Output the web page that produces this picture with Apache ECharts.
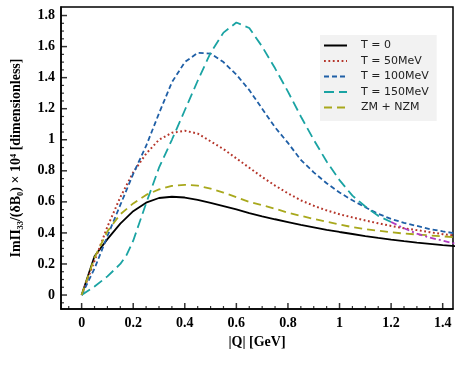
<!DOCTYPE html>
<html>
<head>
<meta charset="utf-8">
<script src="https://cdn.jsdelivr.net/npm/echarts@6/dist/echarts.min.js"></script>
<style>
  html, body { margin: 0; padding: 0; background: #fff; }
  #main { width: 463px; height: 371px; }
</style>
</head>
<body>
<div id="main"></div>
<script>
// |Q| grid (GeV)
const qValues = [0, 0.05, 0.1, 0.15, 0.2, 0.25, 0.3, 0.35, 0.4, 0.45, 0.5, 0.55, 0.6, 0.65, 0.7,
  0.75, 0.8, 0.85, 0.9, 0.95, 1.0, 1.05, 1.1, 1.15, 1.2, 1.25, 1.3, 1.35, 1.4, 1.45];

const t0 = [0, 0.25, 0.36, 0.46, 0.54, 0.595, 0.625, 0.633, 0.628, 0.613, 0.594, 0.573, 0.551, 0.527, 0.507,
  0.488, 0.47, 0.452, 0.436, 0.42, 0.406, 0.393, 0.38, 0.368, 0.357, 0.347, 0.338, 0.33, 0.322, 0.315];
const t50 = [0, 0.22, 0.44, 0.63, 0.79, 0.91, 1.0, 1.045, 1.058, 1.04, 0.99, 0.94, 0.88, 0.82, 0.76,
  0.705, 0.655, 0.61, 0.575, 0.545, 0.52, 0.5, 0.48, 0.462, 0.445, 0.43, 0.418, 0.405, 0.392, 0.382];
const t100 = [0, 0.17, 0.38, 0.58, 0.78, 0.96, 1.17, 1.37, 1.5, 1.56, 1.555, 1.5, 1.42, 1.32, 1.2,
  1.08, 0.98, 0.87, 0.79, 0.72, 0.66, 0.61, 0.565, 0.523, 0.49, 0.465, 0.445, 0.425, 0.41, 0.397];
// T=150MeV has its own grid and stops near 1.2 GeV
const t150Q = [0, 0.05, 0.1, 0.15, 0.175, 0.2, 0.225, 0.25, 0.3, 0.35, 0.4, 0.45, 0.5, 0.55, 0.6, 0.65, 0.7,
  0.75, 0.8, 0.85, 0.9, 0.95, 1.0, 1.05, 1.1, 1.15, 1.2];
const t150 = [0, 0.055, 0.12, 0.2, 0.26, 0.35, 0.47, 0.59, 0.82, 1.0, 1.19, 1.38, 1.56, 1.69, 1.755, 1.72, 1.6,
  1.46, 1.31, 1.15, 1.0, 0.86, 0.74, 0.64, 0.57, 0.51, 0.47];
const zmNzm = [0, 0.24, 0.41, 0.52, 0.59, 0.645, 0.68, 0.703, 0.71, 0.705, 0.685, 0.66, 0.63, 0.6, 0.578,
  0.556, 0.53, 0.51, 0.49, 0.472, 0.455, 0.437, 0.425, 0.414, 0.404, 0.396, 0.39, 0.384, 0.378, 0.372];
// extra dash-dot tail (no legend entry)
const tailQ = [1.2, 1.25, 1.3, 1.35, 1.4, 1.45];
const tailVals = [0.47, 0.43, 0.395, 0.37, 0.35, 0.33];

const xMajor = [0, 0.2, 0.4, 0.6, 0.8, 1, 1.2, 1.4];
const xMinor = [-0.05, 0.05, 0.1, 0.15, 0.25, 0.3, 0.35, 0.45, 0.5, 0.55, 0.65, 0.7, 0.75, 0.85, 0.9, 0.95,
  1.05, 1.1, 1.15, 1.25, 1.3, 1.35];
const yMajor = [0, 0.2, 0.4, 0.6, 0.8, 1, 1.2, 1.4, 1.6, 1.8];
const yMinor = [-0.05, 0.05, 0.1, 0.15, 0.25, 0.3, 0.35, 0.45, 0.5, 0.55, 0.65, 0.7, 0.75, 0.85, 0.9, 0.95,
  1.05, 1.1, 1.15, 1.25, 1.3, 1.35, 1.45, 1.5, 1.55, 1.65, 1.7, 1.75];

const pairs = (xs, ys) => ys.map((v, i) => [xs[i], v]);

const chart = echarts.init(document.getElementById('main'), null, { renderer: 'canvas' });

const serif = 'Liberation Serif, Times New Roman, serif';
const xRange = { min: -0.08, max: 1.44 };
const yRange = { min: -0.09, max: 1.855 };

function line(name, data, color, type, width) {
  return {
    name: name,
    type: 'line',
    data: data,
    showSymbol: false,
    symbol: 'none',
    legendIcon: 'none',
    smooth: false,
    lineStyle: { color: color, type: type, width: width || 1.8 },
    itemStyle: { color: color }
  };
}

// inward tick marks drawn as thin rect symbols sitting on the frame edges
function ticks(name, data, size, offset) {
  return {
    name: name,
    type: 'scatter',
    data: data,
    symbol: 'rect',
    symbolSize: size,
    symbolOffset: offset,
    clip: false,
    silent: true,
    z: 20,
    itemStyle: { color: '#000' }
  };
}

const option = {
  animation: false,
  grid: {
    left: 61, right: 10, top: 7, bottom: 62,
    show: true, borderColor: '#000', borderWidth: 1.5, backgroundColor: 'transparent'
  },
  legend: {
    left: 320, top: 35,
    orient: 'vertical',
    backgroundColor: '#f2f2f2',
    padding: [5, 8, 8, 3],
    itemWidth: 23,
    itemHeight: 12,
    itemGap: 4.5,
    itemStyle: { opacity: 0 },
    data: ['T = 0', 'T = 50MeV', 'T = 100MeV', 'T = 150MeV', 'ZM + NZM'],
    textStyle: {
      fontFamily: 'DejaVu Sans',
      fontSize: 11,
      color: '#222',
      padding: [0, 0, 0, 9]
    }
  },
  xAxis: {
    type: 'value', min: xRange.min, max: xRange.max,
    name: '|Q| [GeV]',
    nameLocation: 'middle',
    nameGap: 25,
    nameTextStyle: { fontFamily: serif, fontWeight: 'bold', fontSize: 14, color: '#000' },
    axisLine: { show: true, onZero: false, lineStyle: { color: '#000', width: 1.5 } },
    axisTick: { show: false },
    axisLabel: {
      customValues: xMajor, margin: 7,
      fontFamily: serif, fontWeight: 'bold', fontSize: 14, color: '#000'
    },
    splitLine: { show: false }
  },
  yAxis: {
    type: 'value', min: yRange.min, max: yRange.max,
    name: 'ImΠ₃₃/(δB₀) × 10⁴ [dimensionless]',
    nameLocation: 'middle',
    nameGap: 38,
    nameTextStyle: { fontFamily: serif, fontWeight: 'bold', fontSize: 14, color: '#000' },
    axisLine: { show: true, onZero: false, lineStyle: { color: '#000', width: 1.5 } },
    axisTick: { show: false },
    axisLabel: {
      customValues: yMajor, margin: 6,
      fontFamily: serif, fontWeight: 'bold', fontSize: 14, color: '#000'
    },
    splitLine: { show: false }
  },
  series: [
    line('T = 0', pairs(qValues, t0), '#000000', 'solid', 1.8),
    line('T = 50MeV', pairs(qValues, t50), '#b5352a', [1.8, 2.6], 2),
    line('T = 100MeV', pairs(qValues, t100), '#1f5fa6', [5, 3], 1.8),
    line('T = 150MeV', pairs(t150Q, t150), '#1aa3a3', [10, 5], 1.8),
    line('ZM + NZM', pairs(qValues, zmNzm), '#a8a81c', [8, 5], 1.8),
    line('tail', pairs(tailQ, tailVals), '#b03cc0', [6, 3, 2, 3], 1.8),
    ticks('xMajorTicks', xMajor.map(v => [v, yRange.min]), [1.5, 6], [0, -3]),
    ticks('xMinorTicks', xMinor.map(v => [v, yRange.min]), [1.2, 3], [0, -1.5]),
    ticks('yMajorTicks', yMajor.map(v => [xRange.min, v]), [6, 1.5], [3, 0]),
    ticks('yMinorTicks', yMinor.map(v => [xRange.min, v]), [3, 1.2], [1.5, 0])
  ]
};

chart.setOption(option);
</script>
</body>
</html>
